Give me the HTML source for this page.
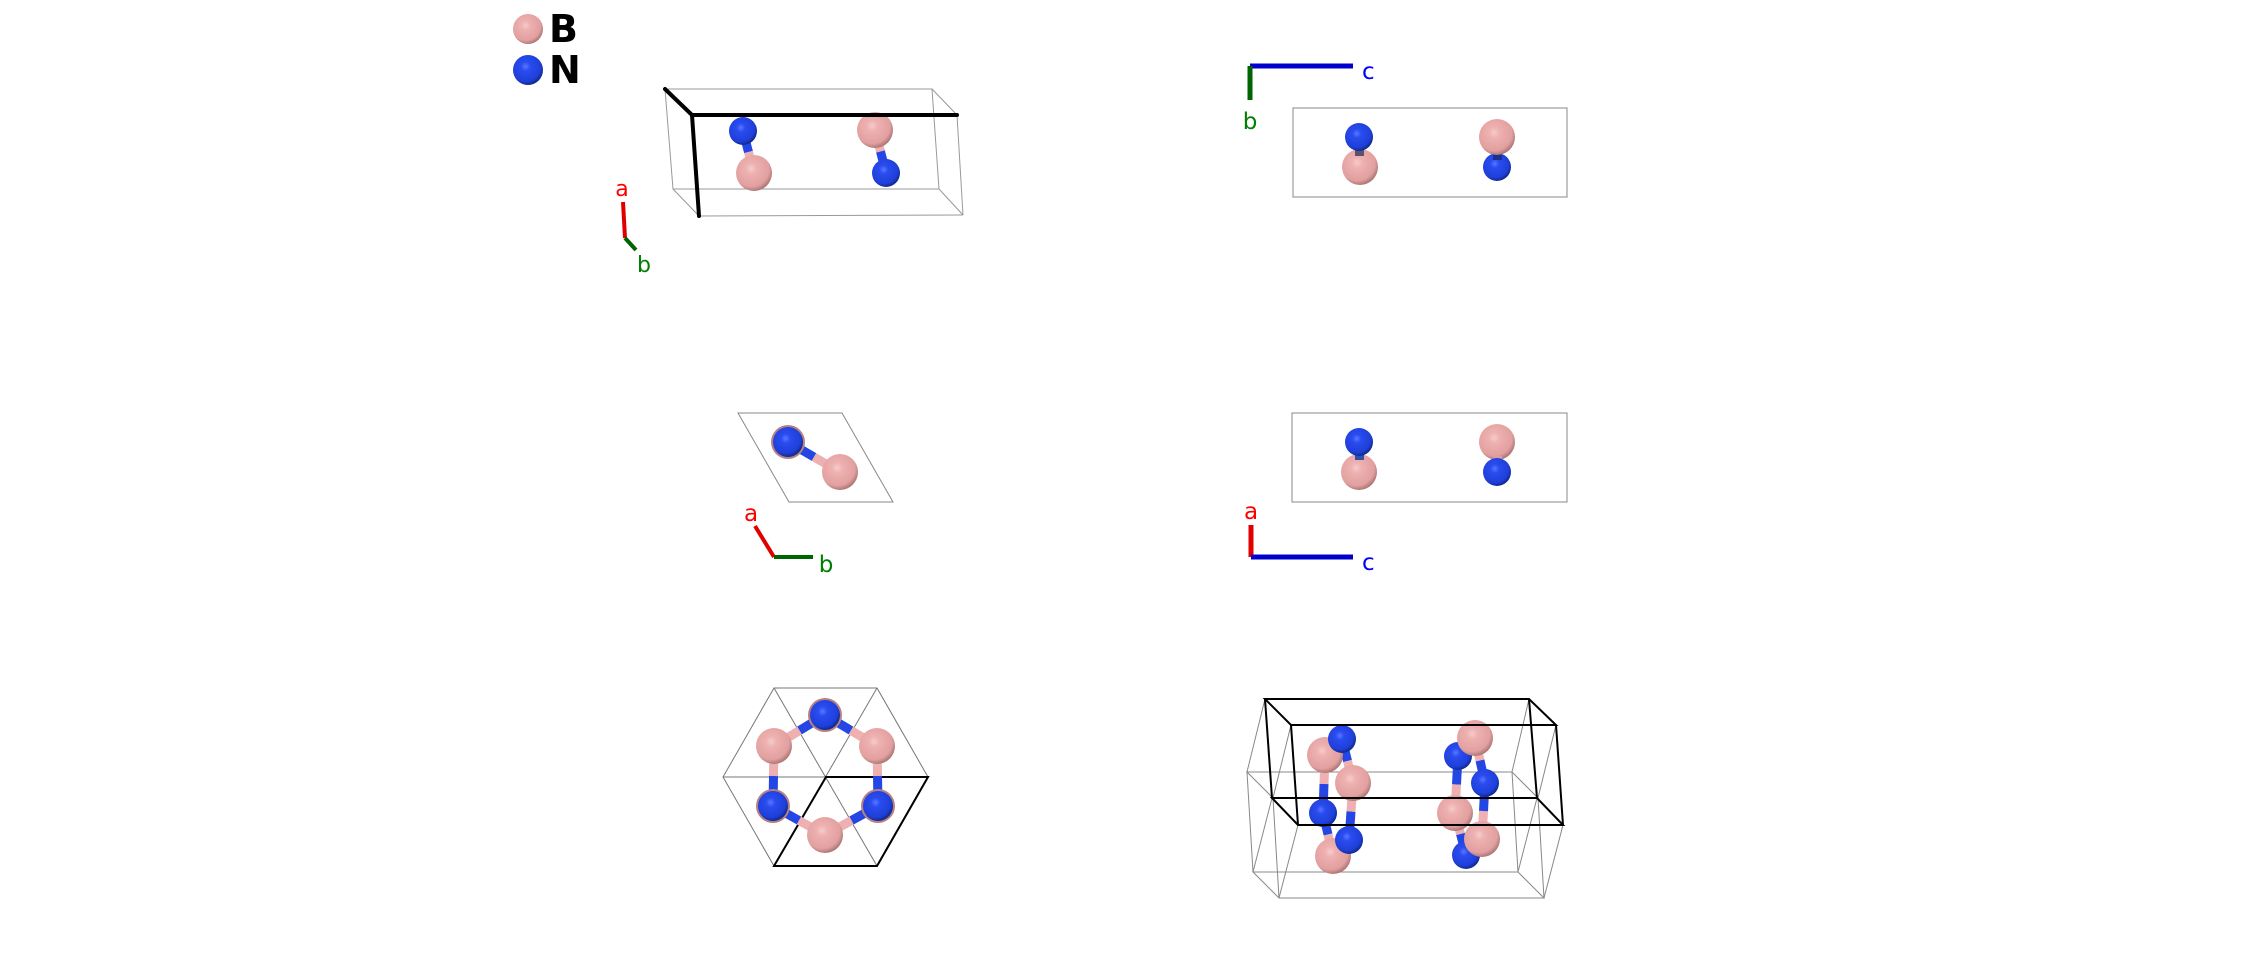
<!DOCTYPE html>
<html><head><meta charset="utf-8"><style>
html,body{margin:0;padding:0;background:#fff;}
svg{display:block;}
text{font-family:"DejaVu Sans","Liberation Sans",sans-serif;}
</style></head><body>
<svg width="2244" height="959" viewBox="0 0 2244 959" xmlns="http://www.w3.org/2000/svg">
<defs>
<radialGradient id="pk" cx="0.42" cy="0.38" r="0.62"><stop offset="0" stop-color="#f6cccc"/><stop offset="0.25" stop-color="#eeb0b0"/><stop offset="0.8" stop-color="#e2a0a0"/><stop offset="1" stop-color="#b07878"/></radialGradient>
<radialGradient id="bl" cx="0.42" cy="0.38" r="0.62"><stop offset="0" stop-color="#5a78ff"/><stop offset="0.25" stop-color="#2a4cf0"/><stop offset="0.8" stop-color="#1f3fd8"/><stop offset="1" stop-color="#102a90"/></radialGradient>
</defs>
<!-- legend -->
<circle cx="528" cy="29" r="15" fill="url(#pk)"/>
<circle cx="528" cy="70" r="15" fill="url(#bl)"/>
<text x="549" y="42" font-size="38" font-weight="bold" fill="#000">B</text>
<text x="549" y="83" font-size="38" font-weight="bold" fill="#000">N</text>

<!-- view 1 -->
<g fill="none" stroke="#999" stroke-width="1">
<polygon points="665,89 932,89 939,189 673,189"/>
<line x1="932" y1="89" x2="957" y2="115"/><line x1="673" y1="189" x2="699" y2="216"/>
<line x1="939" y1="189" x2="963" y2="215"/><line x1="699" y1="216" x2="963" y2="215"/><line x1="957" y1="115" x2="963" y2="215"/>
</g>
<g stroke-width="9">
<line x1="743" y1="131" x2="748.5" y2="152" stroke="#2446e4"/><line x1="748.5" y1="152" x2="754" y2="173" stroke="#eeb0b0"/>
<line x1="875" y1="130" x2="880.5" y2="151.5" stroke="#eeb0b0"/><line x1="880.5" y1="151.5" x2="886" y2="173" stroke="#2446e4"/>
</g>
<circle cx="743" cy="131" r="14" fill="url(#bl)"/><circle cx="754" cy="173" r="18" fill="url(#pk)"/>
<circle cx="875" cy="130" r="18" fill="url(#pk)"/><circle cx="886" cy="173" r="14" fill="url(#bl)"/>
<g stroke="#000" stroke-width="4" stroke-linecap="round" fill="none">
<line x1="665" y1="89" x2="692" y2="115"/><line x1="692" y1="115" x2="957" y2="115"/><line x1="692" y1="115" x2="699" y2="216"/>
</g>
<line x1="623" y1="202" x2="625" y2="238" stroke="#e00000" stroke-width="4"/>
<line x1="625" y1="238" x2="636" y2="250" stroke="#006400" stroke-width="4"/>
<text x="622" y="196" font-size="22" fill="#ff0000" text-anchor="middle">a</text>
<text x="644" y="272" font-size="22" fill="#008000" text-anchor="middle">b</text>

<!-- view 2 -->
<line x1="1250" y1="66" x2="1353" y2="66" stroke="#0000cc" stroke-width="5"/>
<line x1="1250" y1="66" x2="1250" y2="100" stroke="#006400" stroke-width="5"/>
<text x="1362" y="79" font-size="23" fill="#0000ff">c</text>
<text x="1250" y="129" font-size="23" fill="#008000" text-anchor="middle">b</text>
<rect x="1293" y="108" width="274" height="89" fill="none" stroke="#888" stroke-width="1"/>
<circle cx="1360" cy="167" r="18" fill="url(#pk)"/>
<rect x="1355" y="140" width="9" height="16" fill="#5a5070"/>
<circle cx="1359" cy="137" r="14" fill="url(#bl)"/>
<circle cx="1497" cy="167" r="14" fill="url(#bl)"/>
<rect x="1493" y="148" width="9" height="12" fill="#1a3090"/>
<circle cx="1497" cy="137" r="18" fill="url(#pk)"/>

<!-- view 3 -->
<polygon points="738,413 842,413 893,502 789,502" fill="none" stroke="#888" stroke-width="1"/>
<line x1="788" y1="442" x2="814" y2="457" stroke="#2446e4" stroke-width="9"/>
<line x1="814" y1="457" x2="840" y2="472" stroke="#eeb0b0" stroke-width="9"/>
<circle cx="840" cy="472" r="18" fill="url(#pk)"/>
<circle cx="788" cy="442" r="17" fill="#b88080"/>
<circle cx="788" cy="442" r="15" fill="url(#bl)"/>
<line x1="755" y1="526" x2="774" y2="557" stroke="#e00000" stroke-width="4"/>
<line x1="774" y1="557" x2="813" y2="557" stroke="#006400" stroke-width="4"/>
<text x="751" y="521" font-size="23" fill="#ff0000" text-anchor="middle">a</text>
<text x="826" y="572" font-size="23" fill="#008000" text-anchor="middle">b</text>

<!-- view 4 -->
<rect x="1292" y="413" width="275" height="89" fill="none" stroke="#888" stroke-width="1"/>
<circle cx="1359" cy="472" r="18" fill="url(#pk)"/>
<rect x="1355" y="448" width="9" height="12" fill="#3050a0"/>
<circle cx="1359" cy="442" r="14" fill="url(#bl)"/>
<circle cx="1497" cy="442" r="18" fill="url(#pk)"/>
<rect x="1493" y="456" width="9" height="10" fill="#d8a0a0"/>
<circle cx="1497" cy="472" r="14" fill="url(#bl)"/>
<line x1="1251" y1="525" x2="1251" y2="557" stroke="#e00000" stroke-width="5"/>
<line x1="1251" y1="557" x2="1353" y2="557" stroke="#0000cc" stroke-width="5"/>
<text x="1251" y="519" font-size="23" fill="#ff0000" text-anchor="middle">a</text>
<text x="1362" y="570" font-size="23" fill="#0000ff">c</text>

<!-- view 5 hex -->
<g fill="none" stroke="#777" stroke-width="1">
<polygon points="774,688 877,688 928,777 877,866 774,866 723,777"/>
<line x1="774" y1="688" x2="877" y2="866"/><line x1="877" y1="688" x2="774" y2="866"/>
<line x1="723" y1="777" x2="928" y2="777"/>
</g>
<polygon points="826,777 928,777 877,866 774,866" fill="none" stroke="#000" stroke-width="2"/>
<g stroke-width="9">
<line x1="825" y1="715" x2="799.5" y2="730.5" stroke="#2446e4"/><line x1="799.5" y1="730.5" x2="774" y2="746" stroke="#eeb0b0"/>
<line x1="825" y1="715" x2="851" y2="730.5" stroke="#2446e4"/><line x1="851" y1="730.5" x2="877" y2="746" stroke="#eeb0b0"/>
<line x1="774" y1="746" x2="773.5" y2="776" stroke="#eeb0b0"/><line x1="773.5" y1="776" x2="773" y2="806" stroke="#2446e4"/>
<line x1="877" y1="746" x2="877.5" y2="776" stroke="#eeb0b0"/><line x1="877.5" y1="776" x2="878" y2="806" stroke="#2446e4"/>
<line x1="773" y1="806" x2="799" y2="820.5" stroke="#2446e4"/><line x1="799" y1="820.5" x2="825" y2="835" stroke="#eeb0b0"/>
<line x1="878" y1="806" x2="851.5" y2="820.5" stroke="#2446e4"/><line x1="851.5" y1="820.5" x2="825" y2="835" stroke="#eeb0b0"/>
</g>
<circle cx="825" cy="715" r="17" fill="#b88080"/><circle cx="825" cy="715" r="15" fill="url(#bl)"/>
<circle cx="774" cy="746" r="18" fill="url(#pk)"/><circle cx="877" cy="746" r="18" fill="url(#pk)"/>
<circle cx="773" cy="806" r="17" fill="#b88080"/><circle cx="773" cy="806" r="15" fill="url(#bl)"/>
<circle cx="878" cy="806" r="17" fill="#b88080"/><circle cx="878" cy="806" r="15" fill="url(#bl)"/>
<circle cx="825" cy="835" r="18" fill="url(#pk)"/>

<!-- view 6 -->
<g fill="none" stroke="#888" stroke-width="1">
<polygon points="1247,772 1512,772 1538,798 1273,798"/>
<polygon points="1253,872 1518,872 1544,898 1279,898"/>
<line x1="1247" y1="772" x2="1253" y2="872"/><line x1="1273" y1="798" x2="1279" y2="898"/>
<line x1="1512" y1="772" x2="1518" y2="872"/><line x1="1538" y1="798" x2="1544" y2="898"/>
<line x1="1265" y1="699" x2="1247" y2="772"/><line x1="1291" y1="725" x2="1273" y2="798"/>
<line x1="1529" y1="699" x2="1512" y2="772"/><line x1="1556" y1="725" x2="1538" y2="798"/>
<line x1="1272" y1="798" x2="1253" y2="872"/><line x1="1298" y1="825" x2="1279" y2="898"/>
<line x1="1537" y1="798" x2="1518" y2="872"/><line x1="1563" y1="825" x2="1544" y2="898"/>
</g>
<g stroke-width="9">
<line x1="1342" y1="739" x2="1347.5" y2="761" stroke="#2446e4"/><line x1="1347.5" y1="761" x2="1353" y2="783" stroke="#eeb0b0"/>
<line x1="1325" y1="755" x2="1324" y2="784" stroke="#eeb0b0"/><line x1="1324" y1="784" x2="1323" y2="813" stroke="#2446e4"/>
<line x1="1349" y1="840" x2="1351" y2="811.5" stroke="#2446e4"/><line x1="1351" y1="811.5" x2="1353" y2="783" stroke="#eeb0b0"/>
<line x1="1323" y1="813" x2="1328" y2="834.5" stroke="#2446e4"/><line x1="1328" y1="834.5" x2="1333" y2="856" stroke="#eeb0b0"/>
<line x1="1475" y1="738" x2="1480" y2="760.5" stroke="#eeb0b0"/><line x1="1480" y1="760.5" x2="1485" y2="783" stroke="#2446e4"/>
<line x1="1458" y1="756" x2="1456.5" y2="784.5" stroke="#2446e4"/><line x1="1456.5" y1="784.5" x2="1455" y2="813" stroke="#eeb0b0"/>
<line x1="1482" y1="839" x2="1483.5" y2="811" stroke="#eeb0b0"/><line x1="1483.5" y1="811" x2="1485" y2="783" stroke="#2446e4"/>
<line x1="1455" y1="813" x2="1460.5" y2="834" stroke="#eeb0b0"/><line x1="1460.5" y1="834" x2="1466" y2="855" stroke="#2446e4"/>
</g>
<circle cx="1325" cy="755" r="18" fill="url(#pk)"/>
<circle cx="1342" cy="739" r="14" fill="url(#bl)"/>
<circle cx="1353" cy="783" r="18" fill="url(#pk)"/>
<circle cx="1323" cy="813" r="14" fill="url(#bl)"/>
<circle cx="1333" cy="856" r="18" fill="url(#pk)"/>
<circle cx="1349" cy="840" r="14" fill="url(#bl)"/>
<circle cx="1458" cy="756" r="14" fill="url(#bl)"/>
<circle cx="1475" cy="738" r="18" fill="url(#pk)"/>
<circle cx="1485" cy="783" r="14" fill="url(#bl)"/>
<circle cx="1466" cy="855" r="14" fill="url(#bl)"/>
<circle cx="1455" cy="813" r="18" fill="url(#pk)"/>
<circle cx="1482" cy="839" r="18" fill="url(#pk)"/>
<g fill="none" stroke="#000" stroke-width="2">
<polygon points="1265,699 1529,699 1556,725 1291,725"/>
<polygon points="1272,798 1537,798 1563,825 1298,825"/>
<line x1="1265" y1="699" x2="1272" y2="798"/><line x1="1291" y1="725" x2="1298" y2="825"/>
<line x1="1529" y1="699" x2="1537" y2="798"/><line x1="1556" y1="725" x2="1563" y2="825"/>
</g>
</svg>
</body></html>
